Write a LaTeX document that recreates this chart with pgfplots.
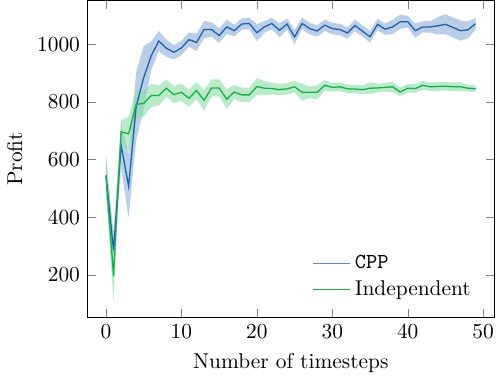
\documentclass[border=0pt]{standalone}
\usepackage{pgfplots}
\usepackage{pgfplotstable}
\pgfplotsset{compat=1.18}
\usepgfplotslibrary{fillbetween}
\definecolor{cppblue}{RGB}{30,95,170}
\definecolor{cppfill}{RGB}{140,175,215}
\definecolor{cppleg}{RGB}{90,140,200}
\definecolor{indgreen}{RGB}{20,175,70}
\definecolor{indfill}{RGB}{140,220,165}
\pgfplotstableread{
x cpp cppsd ind indsd
0 545 70 545 60
1 285 60 196 90
2 650 80 696 40
3 508 110 690 60
4 785 120 792 50
5 885 110 795 45
6 961 50 823 40
7 1012 35 823 35
8 987 30 848 30
9 973 25 826 30
10 988 25 834 30
11 1017 25 813 30
12 1007 30 840 30
13 1052 30 806 35
14 1052 25 849 30
15 1031 25 849 30
16 1061 25 810 35
17 1048 20 835 25
18 1071 20 825 25
19 1073 20 825 25
20 1041 30 854 30
21 1061 20 848 25
22 1073 20 847 20
23 1049 25 843 20
24 1071 20 846 20
25 1026 25 853 20
26 1073 20 834 30
27 1055 20 834 20
28 1047 20 834 25
29 1067 20 858 18
30 1055 20 851 15
31 1052 20 853 15
32 1040 20 846 15
33 1066 20 845 15
34 1046 20 843 15
35 1027 20 848 20
36 1070 20 849 15
37 1053 20 851 15
38 1061 25 853 18
39 1079 25 835 15
40 1079 20 848 15
41 1048 25 847 15
42 1061 20 858 15
43 1061 20 853 15
44 1065 30 854 15
45 1070 35 855 15
46 1059 35 853 15
47 1048 35 853 15
48 1051 30 848 12
49 1072 20 846 12
}\datatable
\begin{document}
\begin{tikzpicture}
\begin{axis}[
  width=190pt, height=148pt, scale only axis,
  xmin=-2.45, xmax=51.45, ymin=53, ymax=1153,
  xtick={0,10,20,30,40,50},
  ytick={200,400,600,800,1000},
  yticklabel style={/pgf/number format/1000 sep={}},
  xlabel={Number of timesteps}, ylabel={Profit},
  tick align=inside, major tick length=4pt,
  legend style={draw=none, fill=none, at={(0.97,0.03)}, anchor=south east},
  legend cell align=left,
  /tikz/fill between/on layer=main,
]
\addplot[draw=none, name path=cu, forget plot] table[x=x, y expr=\thisrow{cpp}+\thisrow{cppsd}] {\datatable};
\addplot[draw=none, name path=cl, forget plot] table[x=x, y expr=\thisrow{cpp}-\thisrow{cppsd}] {\datatable};
\addplot[fill=cppfill, fill opacity=0.6, draw=none, forget plot] fill between[of=cu and cl];
\addplot[draw=none, name path=iu, forget plot] table[x=x, y expr=\thisrow{ind}+\thisrow{indsd}] {\datatable};
\addplot[draw=none, name path=il, forget plot] table[x=x, y expr=\thisrow{ind}-\thisrow{indsd}] {\datatable};
\addplot[fill=indfill, fill opacity=0.6, draw=none, forget plot] fill between[of=iu and il];
\addplot[color=cppblue, line width=0.6pt,
  legend image code/.code={\draw[cppleg, line width=0.6pt] (0cm,0cm) -- (0.6cm,0cm);}]
  table[x=x, y=cpp] {\datatable};
\addplot[color=indgreen, line width=0.6pt,
  legend image code/.code={\draw[indgreen, line width=0.5pt] (0cm,0cm) -- (0.6cm,0cm);}]
  table[x=x, y=ind] {\datatable};
\legend{\texttt{CPP}, Independent}
\end{axis}
\end{tikzpicture}
\end{document}
